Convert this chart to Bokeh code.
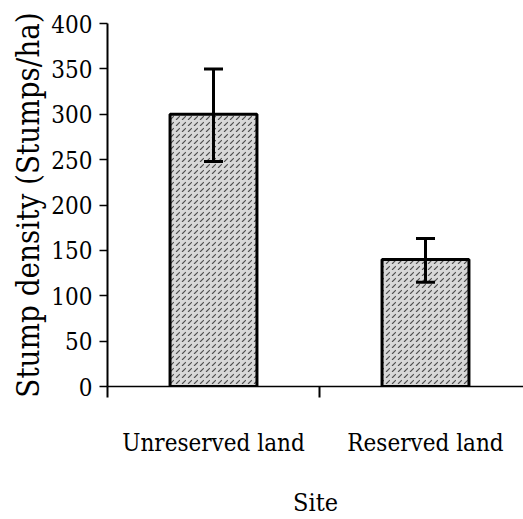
from bokeh.plotting import figure
from bokeh.models import ColumnDataSource, Range1d, FixedTicker, Whisker, TeeHead
from bokeh.embed import file_html
from bokeh.resources import INLINE

sites = ["Unreserved land", "Reserved land"]
positions = [0.5, 1.5]
density = [300, 140]
err_upper = [350, 163]
err_lower = [248, 115]
y_ticks = [0, 50, 100, 150, 200, 250, 300, 350, 400]

src = ColumnDataSource(dict(x=positions, top=density, upper=err_upper, lower=err_lower))

FONT = "DejaVu Serif Condensed"

p = figure(width=523, height=519, output_backend="svg", toolbar_location=None,
           x_range=Range1d(0, 416 / 212), y_range=Range1d(0, 400),
           min_border_left=107, min_border_top=23, min_border_bottom=132, min_border_right=0)
p.outline_line_color = None
p.grid.grid_line_color = None
p.background_fill_color = "white"

p.vbar(x="x", top="top", width=0.41, bottom=0, source=src,
       fill_color="#d8d8d8", line_color="black", line_width=3,
       hatch_pattern=",", hatch_color="#2a2a2a", hatch_scale=6, hatch_weight=1.2, hatch_alpha=0.8)

w = Whisker(base="x", upper="upper", lower="lower", source=src, line_width=3, line_color="black",
            level="overlay",
            upper_head=TeeHead(size=19, line_width=3, line_color="black"),
            lower_head=TeeHead(size=19, line_width=3, line_color="black"))
p.add_layout(w)

xa = p.xaxis[0]
xa.ticker = FixedTicker(ticks=positions, minor_ticks=[0, 1, 2])
xa.major_label_overrides = {positions[i]: sites[i] for i in range(len(sites))}
xa.major_tick_out = 0
xa.major_tick_in = 0
xa.minor_tick_out = 11
xa.minor_tick_in = 0
xa.minor_tick_line_width = 2
xa.axis_line_width = 1.5
xa.major_label_standoff = 31
xa.major_label_text_font = FONT
xa.major_label_text_font_size = "24px"
xa.major_label_text_color = "black"
xa.axis_label = "Site"
xa.axis_label_text_font = FONT
xa.axis_label_text_font_size = "25px"
xa.axis_label_text_font_style = "normal"
xa.axis_label_text_color = "black"
xa.axis_label_standoff = 28

ya = p.yaxis[0]
ya.ticker = FixedTicker(ticks=y_ticks, minor_ticks=[])
ya.major_tick_out = 8
ya.major_tick_in = 0
ya.major_tick_line_width = 1.5
ya.axis_line_width = 2
ya.major_label_standoff = 7
ya.major_label_text_font = FONT
ya.major_label_text_font_size = "24px"
ya.major_label_text_color = "black"
ya.axis_label = "Stump density (Stumps/ha)"
ya.axis_label_text_font = FONT
ya.axis_label_text_font_size = "31px"
ya.axis_label_text_font_style = "normal"
ya.axis_label_text_color = "black"
ya.axis_label_standoff = 2

open("out.html", "w").write(file_html(p, INLINE))
